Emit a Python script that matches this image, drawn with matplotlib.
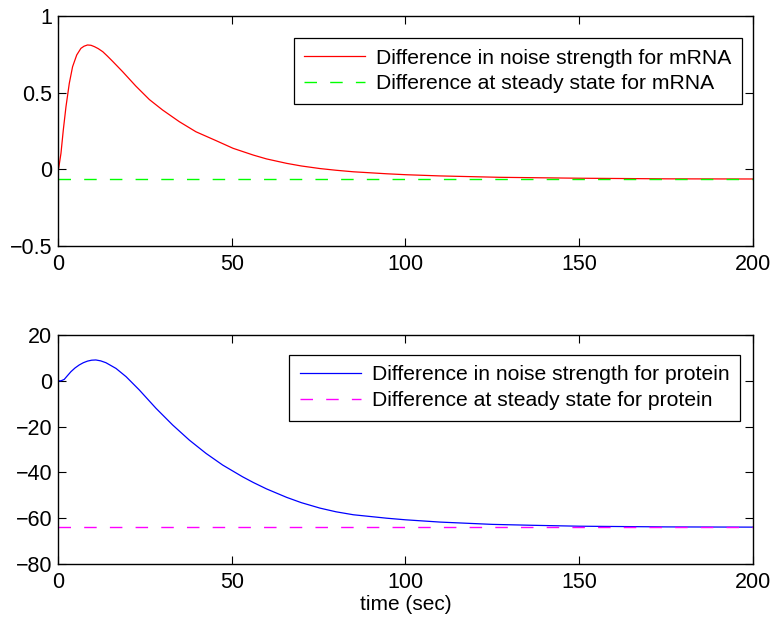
import numpy as np
import matplotlib
matplotlib.use('Agg')
import matplotlib.pyplot as plt

# MATLAB-like look
plt.rcParams['font.family'] = ['Liberation Sans', 'DejaVu Sans']
plt.rcParams['font.size'] = 15.5
plt.rcParams['lines.scale_dashes'] = False

# values
t_mrna = [0, 0.2, 0.86, 1.53, 2.3, 3.26, 4.2, 5.4, 6.6, 7.5, 8.5, 9.5, 10.5,
          11.6, 12.9, 14.2, 15.7, 18.6, 22.4, 26.3, 30.1, 34.9, 39.7, 45.5,
          50.4, 56.2, 60, 65.8, 70, 75.4, 80, 85, 94.6, 100, 110, 127, 150,
          175, 200]
mrna_diff = [0.0, 0.007, 0.104, 0.256, 0.408, 0.561, 0.669, 0.746, 0.789, 0.803,
             0.811, 0.809, 0.8, 0.787, 0.767, 0.739, 0.705, 0.637, 0.543,
             0.455, 0.387, 0.311, 0.245, 0.187, 0.137, 0.093, 0.068, 0.039,
             0.022, 0.005, -0.006, -0.016, -0.029, -0.035, -0.043, -0.052,
             -0.058, -0.062, -0.063]
mrna_ss = -0.063

t_prot = [0, 0.86, 1.8, 2.7, 3.74, 4.9, 6.1, 7.3, 8.5, 9.7, 10.9, 12.3, 13.8,
          16.7, 19.6, 23.4, 28.2, 33, 37.8, 42.6, 47.4, 53.1, 56.2, 60, 65.8,
          70, 75.4, 80, 85, 94.6, 100, 110, 125, 136.7, 150, 175, 200]
prot_diff = [0.0, 0.0, 0.6, 2.2, 4.0, 5.6, 6.9, 7.9, 8.6, 9.0, 9.1, 8.7, 7.9,
             5.4, 1.8, -4.0, -12.0, -19.3, -25.9, -31.7, -36.8, -41.9, -44.4,
             -47.2, -50.9, -53.2, -55.6, -57.2, -58.5, -60.0, -60.7, -61.7,
             -62.7, -63.1, -63.5, -63.8, -63.9]
prot_ss = -64.0

fig = plt.figure(figsize=(7.74, 6.25), dpi=100)
ax1 = fig.add_axes([0.0749, 0.6064, 0.898, 0.368])
ax2 = fig.add_axes([0.0749, 0.0976, 0.898, 0.3664])

ax1.plot(t_mrna, mrna_diff, color='red', lw=0.9,
         label='Difference in noise strength for mRNA')
ax1.plot([0, 200], [mrna_ss, mrna_ss], color='#00ff00', lw=1.0,
         dashes=(9, 9.5), label='Difference at steady state for mRNA')
ax1.set_xlim(0, 200)
ax1.set_ylim(-0.5, 1)
ax1.set_xticks([0, 50, 100, 150, 200])
ax1.set_yticks([-0.5, 0, 0.5, 1])
ax1.set_yticklabels(['\u22120.5', '0', '0.5', '1'])

ax2.plot(t_prot, prot_diff, color='blue', lw=0.9,
         label='Difference in noise strength for protein')
ax2.plot([0, 200], [prot_ss, prot_ss], color='magenta', lw=1.0,
         dashes=(9, 9.5), label='Difference at steady state for protein')
ax2.set_xlim(0, 200)
ax2.set_ylim(-80, 20)
ax2.set_xticks([0, 50, 100, 150, 200])
ax2.set_yticks([-80, -60, -40, -20, 0, 20])
ax2.set_xlabel('time (sec)', fontsize=15, labelpad=1)

anchors = [(0.984, 0.904), (0.981, 0.913)]
for ax, anc in zip((ax1, ax2), anchors):
    ax.tick_params(direction='in', top=True, right=True, length=6, width=0.8,
                   labelsize=15.5)
    ax.tick_params(axis='x', pad=6)
    ax.tick_params(axis='y', pad=4)
    for s in ax.spines.values():
        s.set_linewidth(1.0)
    leg = ax.legend(loc='upper right', bbox_to_anchor=anc, borderaxespad=0,
                    fancybox=False, edgecolor='black', framealpha=1,
                    handlelength=2.9, handletextpad=0.5, labelspacing=0.32,
                    borderpad=0.5, fontsize=15.2)
    leg.get_frame().set_linewidth(0.9)

fig.savefig('out.png', dpi=100)
